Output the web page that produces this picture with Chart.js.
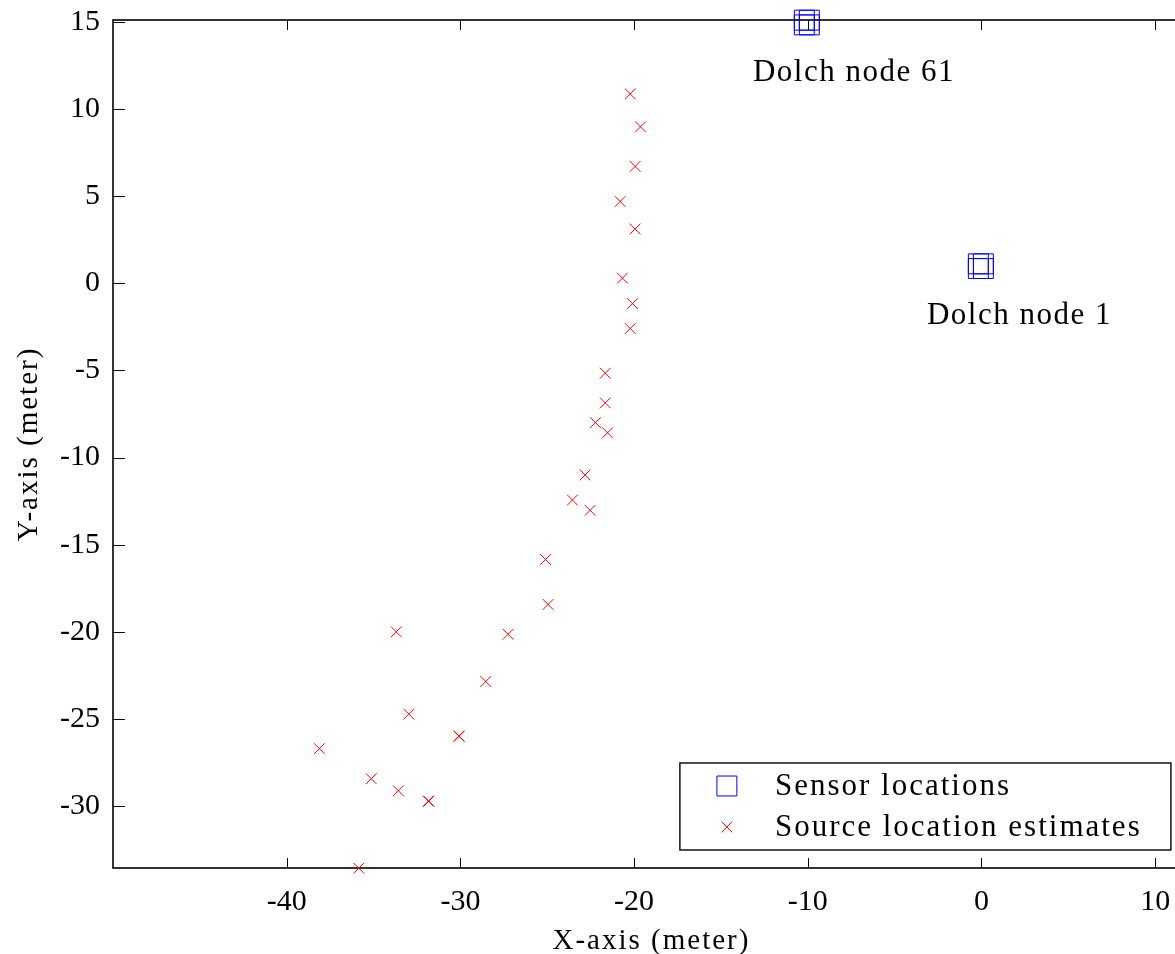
<!DOCTYPE html>
<html>
<head>
<meta charset="utf-8">
<script src="https://cdn.jsdelivr.net/npm/chart.js@4.4.1/dist/chart.umd.min.js"></script>
<style>
html,body{margin:0;padding:0;overflow:hidden;background:#fff;width:1175px;height:954px}
#wrap{position:absolute;left:0;top:0;width:1205px;height:954px}
</style>
</head>
<body>
<div id="wrap"><canvas id="c" width="1205" height="954"></canvas></div>
<script>
// ---- data ----
const seriesNames = ['Sensor locations', 'Source location estimates'];
const sensorX = [-10.20, -9.91, -10.20, -9.91, -0.18, 0.11, -0.18, 0.11];
const sensorY = [15.09, 15.09, 14.82, 14.82, 1.11, 1.11, 0.84, 0.84];
const sourceX = [-20.22, -19.63, -19.94, -20.80, -19.94, -20.67, -20.09, -20.22, -21.66, -21.66,
                 -22.22, -21.53, -22.82, -23.55, -22.53, -25.10, -24.95, -33.69, -27.25, -28.54,
                 -32.97, -30.09, -30.07, -38.12, -35.13, -33.57, -31.84, -31.82, -35.85];
const sourceY = [10.86, 8.97, 6.70, 4.69, 3.11, 0.29, -1.17, -2.60, -5.16, -6.87,
                 -8.00, -8.58, -11.00, -12.44, -13.03, -15.85, -18.43, -20.00, -20.14, -22.85,
                 -24.72, -25.98, -25.99, -26.70, -28.43, -29.12, -29.71, -29.72, -33.56];
const nodeNames = ['Dolch node 61', 'Dolch node 1'];
const nodeX = [-10.05, -0.03];
const nodeY = [14.95, 0.97];
const xTicks = [-40, -30, -20, -10, 0, 10];
const yTicks = [-30, -25, -20, -15, -10, -5, 0, 5, 10, 15];
const xTitle = 'X-axis (meter)';
const yTitle = 'Y-axis (meter)';

const FAMILY = "'Liberation Serif', 'Times New Roman', serif";

function toPoints(xs, ys) { return xs.map((x, i) => ({x: x, y: ys[i]})); }

const decor = {
  id: 'decor',
  beforeDatasetsDraw(chart) {
    const ctx = chart.ctx, a = chart.chartArea;
    const xs = chart.scales.x, ys = chart.scales.y;
    ctx.save();
    ctx.strokeStyle = '#000';
    ctx.lineWidth = 1;
    ctx.beginPath();
    xTicks.forEach(v => {
      const p = Math.round(xs.getPixelForValue(v)) + 0.5;
      ctx.moveTo(p, a.bottom); ctx.lineTo(p, a.bottom - 10);
      ctx.moveTo(p, a.top); ctx.lineTo(p, a.top + 10);
    });
    yTicks.forEach(v => {
      const p = Math.round(ys.getPixelForValue(v)) + 0.5;
      ctx.moveTo(a.left, p); ctx.lineTo(a.left + 12, p);
      ctx.moveTo(a.right, p); ctx.lineTo(a.right - 12, p);
    });
    ctx.stroke();
    ctx.lineWidth = 1.6;
    ctx.strokeRect(a.left, a.top, a.right - a.left, a.bottom - a.top);
    ctx.restore();
  },
  afterDraw(chart) {
    const ctx = chart.ctx, a = chart.chartArea;
    const xs = chart.scales.x, ys = chart.scales.y;
    ctx.save();
    ctx.fillStyle = '#000';
    try { ctx.letterSpacing = '2px'; } catch (e) {}
    // axis titles
    ctx.font = '29px ' + FAMILY;
    ctx.textAlign = 'center';
    ctx.textBaseline = 'alphabetic';
    ctx.fillText(xTitle, (a.left + a.right) / 2, 949);
    ctx.save();
    ctx.translate(37, (a.top + a.bottom) / 2);
    ctx.rotate(-Math.PI / 2);
    ctx.fillText(yTitle, 0, 0);
    ctx.restore();
    // node annotations
    ctx.font = '31px ' + FAMILY;
    try { ctx.letterSpacing = '1.5px'; } catch (e) {}
    ctx.textAlign = 'left';
    ctx.textBaseline = 'middle';
    nodeNames.forEach((t, i) => {
      const px = xs.getPixelForValue(nodeX[i]);
      const py = ys.getPixelForValue(nodeY[i]);
      ctx.fillText(t, px - 54, py + 50);
    });
    // legend
    const bx = a.right - 19 - 491, by = a.bottom - 18 - 87;
    ctx.fillStyle = '#fff';
    ctx.fillRect(bx, by, 491, 87);
    ctx.strokeStyle = '#000';
    ctx.lineWidth = 1.4;
    ctx.strokeRect(bx, by, 491, 87);
    try { ctx.letterSpacing = '2px'; } catch (e) {}
    ctx.font = '31px ' + FAMILY;
    chart.data.datasets.forEach((ds, i) => {
      const cy = by + 23 + i * 41;
      ctx.save();
      ctx.strokeStyle = ds.borderColor;
      ctx.fillStyle = 'rgba(0,0,0,0)';
      ctx.lineWidth = ds.borderWidth;
      Chart.helpers.drawPoint(ctx, {pointStyle: ds.pointStyle, radius: ds.pointRadius, borderWidth: ds.borderWidth, rotation: 0}, bx + 47, cy);
      ctx.restore();
      ctx.fillStyle = '#000';
      ctx.fillText(ds.label, bx + 95, cy + 1);
    });
    ctx.restore();
  }
};

const tickFont = {family: FAMILY, size: 30};

new Chart(document.getElementById('c').getContext('2d'), {
  type: 'scatter',
  data: {
    datasets: [
      {
        label: seriesNames[0],
        data: toPoints(sensorX, sensorY),
        pointStyle: 'rect',
        pointRadius: 14.1,
        pointHoverRadius: 14.1,
        borderColor: '#0000ff',
        backgroundColor: 'rgba(0,0,0,0)',
        borderWidth: 1,
        clip: false
      },
      {
        label: seriesNames[1],
        data: toPoints(sourceX, sourceY),
        pointStyle: 'crossRot',
        pointRadius: 7.6,
        pointHoverRadius: 7.6,
        borderColor: '#ff0000',
        backgroundColor: '#ff0000',
        borderWidth: 1,
        clip: false
      }
    ]
  },
  options: {
    responsive: false,
    animation: false,
    devicePixelRatio: 1,
    events: [],
    layout: {padding: {left: 0, top: 20, right: 0, bottom: 0}},
    plugins: {legend: {display: false}, tooltip: {enabled: false}},
    scales: {
      x: {
        type: 'linear',
        min: -50,
        max: 12,
        afterBuildTicks: s => { s.ticks = xTicks.map(v => ({value: v})); },
        afterFit: s => { s.height = 86; s.paddingLeft = 0; s.paddingRight = 0; },
        grid: {display: false, drawTicks: false},
        border: {display: false},
        ticks: {font: tickFont, color: '#000', padding: 16, maxRotation: 0}
      },
      y: {
        type: 'linear',
        min: -33.55,
        max: 15.1,
        afterBuildTicks: s => { s.ticks = yTicks.map(v => ({value: v})); },
        afterFit: s => { s.width = 113; s.paddingTop = 0; s.paddingBottom = 0; },
        grid: {display: false, drawTicks: false},
        border: {display: false},
        ticks: {font: tickFont, color: '#000', padding: 13}
      }
    }
  },
  plugins: [decor]
});
</script>
</body>
</html>
